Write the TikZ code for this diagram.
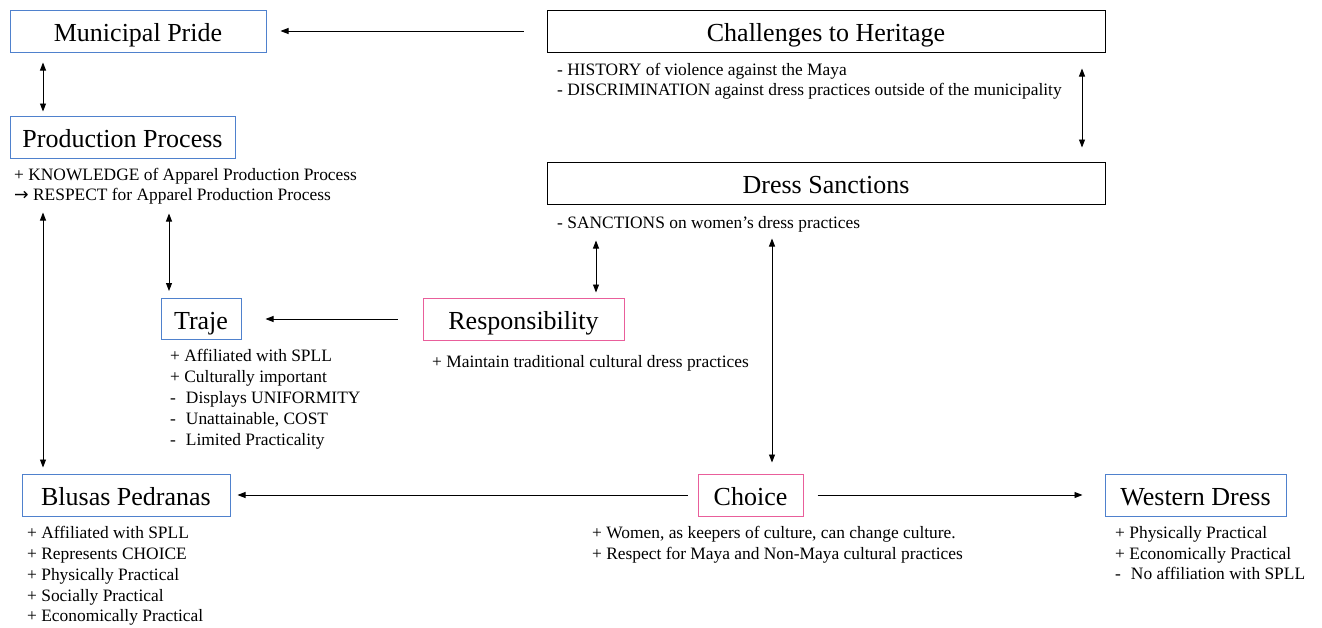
\documentclass[tikz,border=0pt]{standalone}
\usepackage{fontspec}
\setmainfont{Liberation Serif}
\newfontfamily\arrowfont{DejaVu Sans}
\usetikzlibrary{arrows.meta}
\definecolor{boxblue}{RGB}{79,129,205}
\definecolor{boxpink}{RGB}{233,94,155}
\begin{document}
\begin{tikzpicture}[x=1pt,y=-1pt,
 box/.style={draw,line width=1pt,inner sep=0pt,text height=24pt,text depth=3pt,font=\fontsize{26}{30}\selectfont},
 bluebox/.style={box,draw=boxblue},
 pinkbox/.style={box,draw=boxpink},
 blackbox/.style={box,draw=black},
 note/.style={anchor=north west,inner sep=0pt,align=left,font=\fontsize{17.4}{20}\selectfont},
 conn/.style={line width=0.9pt,-{Triangle[length=8pt,width=6pt]}},
 biconn/.style={line width=0.9pt,{Triangle[length=8pt,width=6pt]}-{Triangle[length=8pt,width=6pt]}}
]
\useasboundingbox (0,0) rectangle (1322,627);
% boxes
\node[bluebox,minimum width=256pt,minimum height=42pt] (mun) at (138,31) {Municipal Pride};
\node[blackbox,minimum width=558pt,minimum height=42pt] (chal) at (826,31) {Challenges to Heritage};
\node[blackbox,minimum width=558pt,minimum height=42pt] (dress) at (826,183) {Dress Sanctions};
\node[bluebox,minimum width=225pt,minimum height=42pt] (prod) at (122.5,137) {Production Process};
\node[bluebox,minimum width=80pt,minimum height=41pt] (traje) at (201,319) {Traje};
\node[pinkbox,minimum width=201pt,minimum height=42pt] (resp) at (523.5,319) {Responsibility};
\node[pinkbox,minimum width=105pt,minimum height=42pt] (choice) at (750.5,495) {Choice};
\node[bluebox,minimum width=208pt,minimum height=42pt] (blusas) at (126,495) {Blusas Pedranas};
\node[bluebox,minimum width=181pt,minimum height=42pt] (western) at (1195.5,495) {Western Dress};
% helper x positions
\coordinate (cA) at (43,0);
\coordinate (cB) at (169,0);
\coordinate (cC) at (1082,0);
\coordinate (cD) at (596,0);
\coordinate (cE) at (772,0);
% notes
\node[note] (chaln) at (557,63.5) {- HISTORY of violence against the Maya\\- DISCRIMINATION against dress practices outside of the municipality};
\node[note] (prodn) at (14,168.5) {+ KNOWLEDGE of Apparel Production Process\\{\arrowfont →} RESPECT for Apparel Production Process};
\node[note] (dressn) at (557,216.5) {- SANCTIONS on women’s dress practices};
\node[note,font=\fontsize{17.4}{21}\selectfont] (trajen) at (170,349.5) {+ Affiliated with SPLL\\+ Culturally important\\-\hspace{10pt}Displays UNIFORMITY\\-\hspace{10pt}Unattainable, COST\\-\hspace{10pt}Limited Practicality};
\node[note] (respn) at (432,355.5) {+ Maintain traditional cultural dress practices};
\node[note,font=\fontsize{17.4}{20.75}\selectfont] (blusasn) at (27,526.5) {+ Affiliated with SPLL\\+ Represents CHOICE\\+ Physically Practical\\+ Socially Practical\\+ Economically Practical};
\node[note,font=\fontsize{17.4}{20.75}\selectfont] (choicen) at (592,526.5) {+ Women, as keepers of culture, can change culture.\\+ Respect for Maya and Non-Maya cultural practices};
\node[note,font=\fontsize{17.4}{20.5}\selectfont] (westernn) at (1115,526.5) {+ Physically Practical\\+ Economically Practical\\-\hspace{10pt}No affiliation with SPLL};
% connectors
\draw[conn,shorten <=23pt,shorten >=14pt] (chal.west) -- (mun.east);
\draw[biconn,shorten <=10pt,shorten >=4pt] (mun.south -| cA) -- (prod.north -| cA);
\draw[biconn,shorten <=54pt,shorten >=6pt] (prod.south -| cA) -- (blusas.north -| cA);
\draw[biconn,shorten <=55pt,shorten >=7pt] (prod.south -| cB) -- (traje.north -| cB);
\draw[biconn,shorten <=16pt,shorten >=14pt] (chal.south -| cC) -- (dress.north -| cC);
\draw[biconn,shorten <=36pt,shorten >=5pt] (dress.south -| cD) -- (resp.north -| cD);
\draw[biconn,shorten <=34pt,shorten >=11pt] (dress.south -| cE) -- (choice.north -| cE);
\draw[conn,shorten <=25pt,shorten >=24pt] (resp.west) -- (traje.east);
\draw[conn,shorten <=10pt,shorten >=7pt] (choice.west) -- (blusas.east);
\draw[conn,shorten <=14pt,shorten >=22pt] (choice.east) -- (western.west);
\end{tikzpicture}
\end{document}
